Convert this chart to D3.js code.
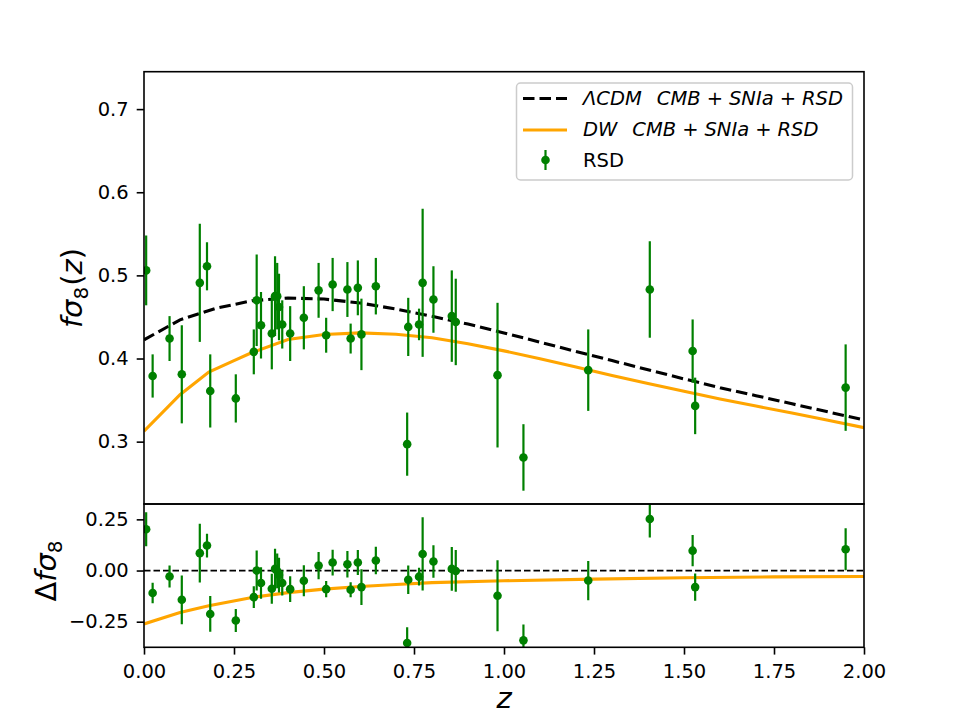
<!DOCTYPE html>
<html>
<head>
<meta charset="utf-8">
<script src="https://cdn.jsdelivr.net/npm/d3@7"></script>
<style>
body { margin: 0; background: #fff; }
text { font-family: "DejaVu Sans", sans-serif; fill: #000; }
</style>
</head>
<body>
<div id="chart"></div>
<script>
// RSD data points
let zData = [0.006, 0.024, 0.071, 0.105, 0.155, 0.175, 0.184, 0.255, 0.305, 0.313, 0.325, 0.355, 0.364, 0.370, 0.375, 0.384, 0.406, 0.444, 0.485, 0.506, 0.524, 0.565, 0.574, 0.594, 0.604, 0.644, 0.734, 0.731, 0.764, 0.774, 0.804, 0.855, 0.866, 0.982, 1.054, 1.234, 1.405, 1.524, 1.531, 1.949];
let fs8 = [0.506, 0.379, 0.424, 0.381, 0.491, 0.511, 0.361, 0.352, 0.408, 0.470, 0.440, 0.430, 0.475, 0.475, 0.462, 0.441, 0.430, 0.449, 0.482, 0.428, 0.489, 0.483, 0.424, 0.485, 0.429, 0.487, 0.438, 0.297, 0.441, 0.491, 0.471, 0.451, 0.444, 0.380, 0.281, 0.386, 0.483, 0.409, 0.343, 0.365];
let fs8Err = [0.042, 0.026, 0.027, 0.059, 0.071, 0.029, 0.044, 0.029, 0.027, 0.055, 0.040, 0.043, 0.048, 0.040, 0.040, 0.029, 0.033, 0.038, 0.033, 0.021, 0.032, 0.033, 0.018, 0.033, 0.043, 0.034, 0.035, 0.038, 0.019, 0.089, 0.040, 0.055, 0.052, 0.087, 0.040, 0.049, 0.058, 0.038, 0.034, 0.052];

// residuals (lower panel)
let dFs8 = [0.202, -0.110, -0.029, -0.143, 0.085, 0.122, -0.212, -0.244, -0.130, 0.000, -0.061, -0.089, 0.008, -0.002, -0.022, -0.061, -0.091, -0.050, 0.024, -0.091, 0.039, 0.031, -0.094, 0.039, -0.081, 0.049, -0.045, -0.354, -0.030, 0.081, 0.044, 0.008, -0.002, -0.123, -0.341, -0.049, 0.252, 0.097, -0.081, 0.104];
let dFs8Err = [0.083, 0.050, 0.054, 0.119, 0.143, 0.058, 0.087, 0.056, 0.053, 0.098, 0.077, 0.073, 0.098, 0.085, 0.085, 0.061, 0.063, 0.076, 0.067, 0.040, 0.063, 0.065, 0.037, 0.061, 0.087, 0.067, 0.070, 0.077, 0.043, 0.179, 0.079, 0.107, 0.102, 0.173, 0.077, 0.096, 0.091, 0.076, 0.067, 0.103];

// model curves
let zLcdm = [0, 0.1, 0.2, 0.3, 0.4, 0.5, 0.6, 0.7, 0.8, 0.9, 1.0, 1.1, 1.2, 1.3, 1.4, 1.5, 1.6, 1.7, 1.8, 1.9, 2.0];
let fs8Lcdm = [0.4225, 0.4465, 0.4605, 0.4695, 0.4728, 0.4715, 0.4668, 0.4595, 0.4508, 0.4414, 0.4308, 0.4196, 0.4085, 0.3975, 0.3865, 0.3755, 0.3648, 0.3553, 0.3455, 0.3358, 0.3262];

let zDw = [0, 0.1, 0.18, 0.25, 0.3, 0.4, 0.5, 0.6, 0.7, 0.8, 0.9, 1.0, 1.1, 1.2, 1.3, 1.4, 1.5, 1.6, 1.7, 1.8, 1.9, 2.0];
let fs8Dw = [0.3125, 0.3565, 0.3838, 0.3975, 0.4072, 0.4228, 0.4288, 0.4308, 0.4292, 0.4250, 0.4178, 0.4092, 0.3997, 0.3897, 0.3797, 0.3700, 0.3605, 0.3512, 0.3428, 0.3345, 0.3258, 0.3168];

let zDwRes = [0, 0.1, 0.18, 0.3, 0.4, 0.5, 0.6, 0.7, 0.8, 1.0, 1.25, 1.5, 1.75, 2.0];
let dDw = [-0.261, -0.205, -0.172, -0.1315, -0.108, -0.091, -0.078, -0.068, -0.059, -0.050, -0.042, -0.035, -0.031, -0.029];

// ticks
let xTicks = [0, 0.25, 0.5, 0.75, 1.0, 1.25, 1.5, 1.75, 2.0];
let yTicksTop = [0.3, 0.4, 0.5, 0.6, 0.7];
let yTicksBot = [-0.25, 0, 0.25];

let w = 960,
    h = 720;

let left = 144, right = 864;
let top1 = 71.7, mid = 504, bot2 = 647.3;

let green = "#008000", orange = "#ffa500";

let svg = d3.select("#chart")
            .append("svg")
            .attr("width", w)
            .attr("height", h);

let x = d3.scaleLinear().domain([0, 2]).range([left, right]);
let yTop = d3.scaleLinear().domain([0.225, 0.745]).range([mid, top1]);
let yBot = d3.scaleLinear().domain([-0.375, 0.325]).range([bot2, mid]);

let defs = svg.append("defs");
defs.append("clipPath").attr("id", "clipTop")
    .append("rect").attr("x", left).attr("y", top1).attr("width", right - left).attr("height", mid - top1);
defs.append("clipPath").attr("id", "clipBot")
    .append("rect").attr("x", left).attr("y", mid).attr("width", right - left).attr("height", bot2 - mid);

// ---- top panel ----
let gTop = svg.append("g").attr("clip-path", "url(#clipTop)");

let lineLcdm = d3.line().x((d, i) => x(zLcdm[i])).y(d => yTop(d));
let lineDw = d3.line().x((d, i) => x(zDw[i])).y(d => yTop(d));

gTop.append("path")
    .attr("d", lineLcdm(fs8Lcdm))
    .attr("fill", "none")
    .attr("stroke", "#000")
    .attr("stroke-width", 3.1)
    .attr("stroke-dasharray", "11.5,5");

gTop.append("path")
    .attr("d", lineDw(fs8Dw))
    .attr("fill", "none")
    .attr("stroke", orange)
    .attr("stroke-width", 3.1);

gTop.selectAll(".ebar")
    .data(zData)
    .enter()
    .append("line")
    .attr("class", "ebar")
    .attr("x1", d => x(d))
    .attr("x2", d => x(d))
    .attr("y1", (d, i) => yTop(fs8[i] - fs8Err[i]))
    .attr("y2", (d, i) => yTop(fs8[i] + fs8Err[i]))
    .attr("stroke", green)
    .attr("stroke-width", 2.2);

gTop.selectAll(".dot")
    .data(zData)
    .enter()
    .append("circle")
    .attr("class", "dot")
    .attr("cx", d => x(d))
    .attr("cy", (d, i) => yTop(fs8[i]))
    .attr("r", 4.3)
    .attr("fill", green);

// ---- bottom panel ----
let gBot = svg.append("g").attr("clip-path", "url(#clipBot)");

gBot.append("line")
    .attr("x1", x(0)).attr("x2", x(2))
    .attr("y1", yBot(0)).attr("y2", yBot(0))
    .attr("stroke", "#000")
    .attr("stroke-width", 1.8)
    .attr("stroke-dasharray", "6.5,3");

let lineRes = d3.line().x((d, i) => x(zDwRes[i])).y(d => yBot(d));

gBot.append("path")
    .attr("d", lineRes(dDw))
    .attr("fill", "none")
    .attr("stroke", orange)
    .attr("stroke-width", 3.1);

gBot.selectAll(".ebar")
    .data(zData)
    .enter()
    .append("line")
    .attr("class", "ebar")
    .attr("x1", d => x(d))
    .attr("x2", d => x(d))
    .attr("y1", (d, i) => yBot(dFs8[i] - dFs8Err[i]))
    .attr("y2", (d, i) => yBot(dFs8[i] + dFs8Err[i]))
    .attr("stroke", green)
    .attr("stroke-width", 2.2);

gBot.selectAll(".dot")
    .data(zData)
    .enter()
    .append("circle")
    .attr("class", "dot")
    .attr("cx", d => x(d))
    .attr("cy", (d, i) => yBot(dFs8[i]))
    .attr("r", 4.3)
    .attr("fill", green);

// ---- axes ----
function styleAxis(g) {
  g.select(".domain").remove();
  g.selectAll(".tick line").attr("stroke", "#000").attr("stroke-width", 1.6);
  g.selectAll(".tick text").attr("font-size", "19.5px").attr("fill", "#000")
   .style("font-family", "'DejaVu Sans', sans-serif");
}

svg.append("g")
   .attr("transform", "translate(" + left + ",0)")
   .call(d3.axisLeft(yTop).tickValues(yTicksTop).tickFormat(d3.format(".1f")).tickSize(7.3).tickPadding(8))
   .call(styleAxis);

svg.append("g")
   .attr("transform", "translate(" + left + ",0)")
   .call(d3.axisLeft(yBot).tickValues(yTicksBot).tickFormat(d3.format(".2f")).tickSize(7.3).tickPadding(8))
   .call(styleAxis);

svg.append("g")
   .attr("transform", "translate(0," + bot2 + ")")
   .call(d3.axisBottom(x).tickValues(xTicks).tickFormat(d3.format(".2f")).tickSize(7.3).tickPadding(9.5))
   .call(styleAxis);

// frames
[[top1, mid], [mid, bot2]].forEach(p => {
  svg.append("rect")
     .attr("x", left).attr("y", p[0])
     .attr("width", right - left).attr("height", p[1] - p[0])
     .attr("fill", "none")
     .attr("stroke", "#000")
     .attr("stroke-width", 1.6);
});

// math-style text helper
function mathText(sel, parts) {
  parts.forEach(p => {
    let t = sel.append("tspan")
               .text(p.t)
               .attr("font-style", p.it ? "italic" : "normal");
    if (p.dx) t.attr("dx", p.dx);
    if (p.dy) t.attr("dy", p.dy);
    if (p.fs) t.attr("font-size", p.fs);
  });
}

// axis labels
let ylab1 = svg.append("text")
               .attr("transform", "translate(82,288) rotate(-90)")
               .attr("text-anchor", "middle")
               .attr("font-size", "29px");
mathText(ylab1, [
  { t: "f", it: true },
  { t: "σ", it: true },
  { t: "8", fs: "20px", dy: 6 },
  { t: "(", dy: -6, dx: 1 },
  { t: "z", it: true },
  { t: ")" }
]);

let ylab2 = svg.append("text")
               .attr("transform", "translate(56,571) rotate(-90)")
               .attr("text-anchor", "middle")
               .attr("font-size", "29px");
mathText(ylab2, [
  { t: "Δ" },
  { t: "f", it: true },
  { t: "σ", it: true },
  { t: "8", fs: "20px", dy: 6 }
]);

svg.append("text")
   .attr("x", (left + right) / 2)
   .attr("y", 708)
   .attr("text-anchor", "middle")
   .attr("font-size", "29px")
   .attr("font-style", "italic")
   .text("z");

// ---- legend ----
let leg = svg.append("g");

leg.append("rect")
   .attr("x", 516.5).attr("y", 83)
   .attr("width", 336).attr("height", 97)
   .attr("rx", 4)
   .attr("fill", "#fff")
   .attr("fill-opacity", 0.8)
   .attr("stroke", "#cccccc")
   .attr("stroke-width", 1.5);

leg.append("line")
   .attr("x1", 523).attr("x2", 567).attr("y1", 98.5).attr("y2", 98.5)
   .attr("stroke", "#000").attr("stroke-width", 3.1).attr("stroke-dasharray", "11.5,5");

leg.append("line")
   .attr("x1", 523).attr("x2", 567).attr("y1", 130).attr("y2", 130)
   .attr("stroke", orange).attr("stroke-width", 3.1);

leg.append("line")
   .attr("x1", 545.5).attr("x2", 545.5).attr("y1", 150).attr("y2", 170)
   .attr("stroke", green).attr("stroke-width", 2.2);
leg.append("circle")
   .attr("cx", 545.5).attr("cy", 160).attr("r", 4.3).attr("fill", green);

let legLabels = [
  { y: 105, parts: [
    { t: "ΛCDM", it: true }, { t: "CMB", it: true, dx: 15 }, { t: "+", dx: 6 },
    { t: "SNIa", it: true, dx: 6 }, { t: "+", dx: 6 }, { t: "RSD", it: true, dx: 6 }
  ] },
  { y: 136, parts: [
    { t: "DW", it: true }, { t: "CMB", it: true, dx: 15 }, { t: "+", dx: 6 },
    { t: "SNIa", it: true, dx: 6 }, { t: "+", dx: 6 }, { t: "RSD", it: true, dx: 6 }
  ] },
  { y: 167, parts: [ { t: "RSD" } ] }
];

legLabels.forEach(l => {
  let t = leg.append("text")
             .attr("x", 583)
             .attr("y", l.y)
             .attr("font-size", "19.5px");
  mathText(t, l.parts);
});
</script>
</body>
</html>
